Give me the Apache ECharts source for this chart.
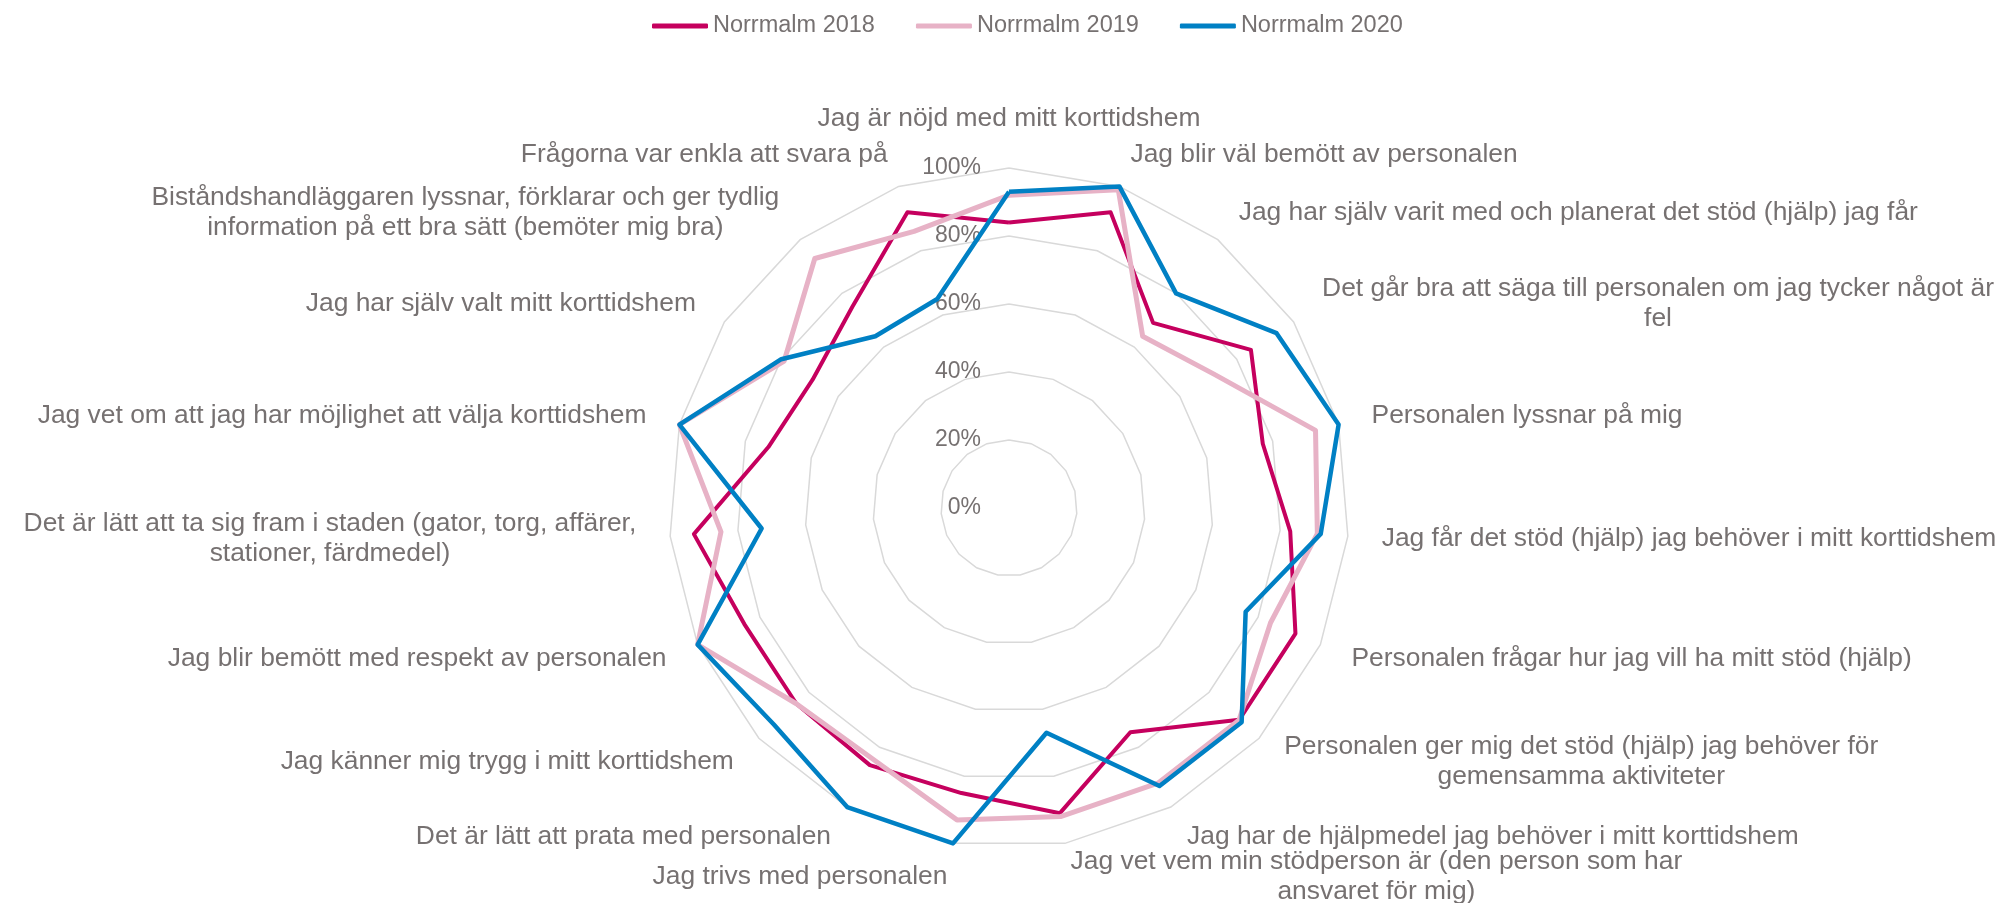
<!DOCTYPE html>
<html>
<head>
<meta charset="utf-8">
<title>Norrmalm korttidshem</title>
<script src="https://cdn.jsdelivr.net/npm/echarts@6.0.0/dist/echarts.min.js"></script>
<style>
  html, body { margin: 0; padding: 0; background: #fff; }
  #chart { width: 2003px; height: 903px; }
</style>
</head>
<body>
<div id="chart"></div>
<script>
// frågor, medurs från toppen
const categories = [
  'Jag är nöjd med mitt korttidshem',
  'Jag blir väl bemött av personalen',
  'Jag har själv varit med och planerat det stöd (hjälp) jag får',
  'Det går bra att säga till personalen om jag tycker något är\nfel',
  'Personalen lyssnar på mig',
  'Jag får det stöd (hjälp) jag behöver i mitt korttidshem',
  'Personalen frågar hur jag vill ha mitt stöd (hjälp)',
  'Personalen ger mig det stöd (hjälp) jag behöver för\ngemensamma aktiviteter',
  'Jag har de hjälpmedel jag behöver i mitt korttidshem',
  'Jag vet vem min stödperson är (den person som har\nansvaret för mig)',
  'Jag trivs med personalen',
  'Det är lätt att prata med personalen',
  'Jag känner mig trygg i mitt korttidshem',
  'Jag blir bemött med respekt av personalen',
  'Det är lätt att ta sig fram i staden (gator, torg, affärer,\nstationer, färdmedel)',
  'Jag vet om att jag har möjlighet att välja korttidshem',
  'Jag har själv valt mitt korttidshem',
  'Biståndshandläggaren lyssnar, förklarar och ger tydlig\ninformation på ett bra sätt (bemöter mig bra)',
  'Frågorna var enkla att svara på',
];

const seriesNames = ['Norrmalm 2018', 'Norrmalm 2019', 'Norrmalm 2020'];

const values2018 = [84, 92, 69, 85, 77, 83, 92, 92, 75, 91, 85, 86, 85, 85, 93, 73, 69, 75, 92];
const values2019 = [92, 99, 64, 72, 93, 91, 84, 92, 92, 92, 93, 84, 85, 100, 85, 100, 79, 93, 86];
const values2020 = [93, 100, 80, 94, 100, 92, 76, 93, 93, 67, 100, 100, 94, 100, 73, 100, 80, 64, 65];

const scaleMin = 0;
const scaleMax = 100;
const scaleStep = 20;

const colors = ['#c5005e', '#e7b2c6', '#0080c4'];
const lineWidths = [4, 5, 4.5];
const textColor = '#767171';
const fontFamily = 'Liberation Sans, Arial, sans-serif';

// echarts radar går moturs, Excel medurs -> vänd ordningen (första axeln ligger kvar överst)
const clockwise = (arr) => [arr[0], ...arr.slice(1).reverse()];

const chart = echarts.init(document.getElementById('chart'));

const option = {
  animation: false,
  color: colors,
  legend: {
    top: 9,
    left: 647,
    data: seriesNames,
    icon: 'roundRect',
    itemWidth: 56,
    itemHeight: 5,
    itemGap: 41,
    textStyle: { color: textColor, fontSize: 23.5, fontFamily },
  },
  // separat polar bara för skalans etiketter (0%–100%) längs toppaxeln
  polar: {
    center: [1009, 508],
    radius: 340,
  },
  angleAxis: {
    type: 'value',
    show: false,
    startAngle: 90,
  },
  radiusAxis: {
    type: 'value',
    min: scaleMin,
    max: scaleMax,
    interval: scaleStep,
    axisLine: { show: false },
    axisTick: { show: false },
    splitLine: { show: false },
    axisLabel: {
      formatter: '{value}%',
      color: textColor,
      fontSize: 23,
      fontFamily,
      margin: 28,
    },
    z: 1,
  },
  radar: {
    center: [1009, 508],
    radius: 340,
    startAngle: 90,
    shape: 'polygon',
    splitNumber: 5,
    indicator: clockwise(categories).map((name) => ({ name, min: scaleMin, max: scaleMax })),
    axisLine: { show: false },
    axisTick: { show: false },
    splitArea: { show: false },
    splitLine: { lineStyle: { color: '#d9d9d9', width: 1.5 } },
    nameGap: 34,
    axisName: {
      color: textColor,
      fontSize: 26.4,
      fontFamily,
      lineHeight: 30,
      formatter(value) {
        // centrera varje rad som i Excel
        return value.split('\n').map((line) => `{c|${line}}`).join('\n');
      },
      rich: {
        c: { align: 'center', color: textColor, fontSize: 26.4, fontFamily, lineHeight: 30 },
      },
    },
  },
  series: [
    {
      type: 'radar',
      symbol: 'none',
      data: [values2018, values2019, values2020].map((value, i) => ({
        name: seriesNames[i],
        value: clockwise(value),
        itemStyle: { color: colors[i] },
        lineStyle: { color: colors[i], width: lineWidths[i] },
      })),
    },
  ],
};

chart.setOption(option);
</script>
</body>
</html>
